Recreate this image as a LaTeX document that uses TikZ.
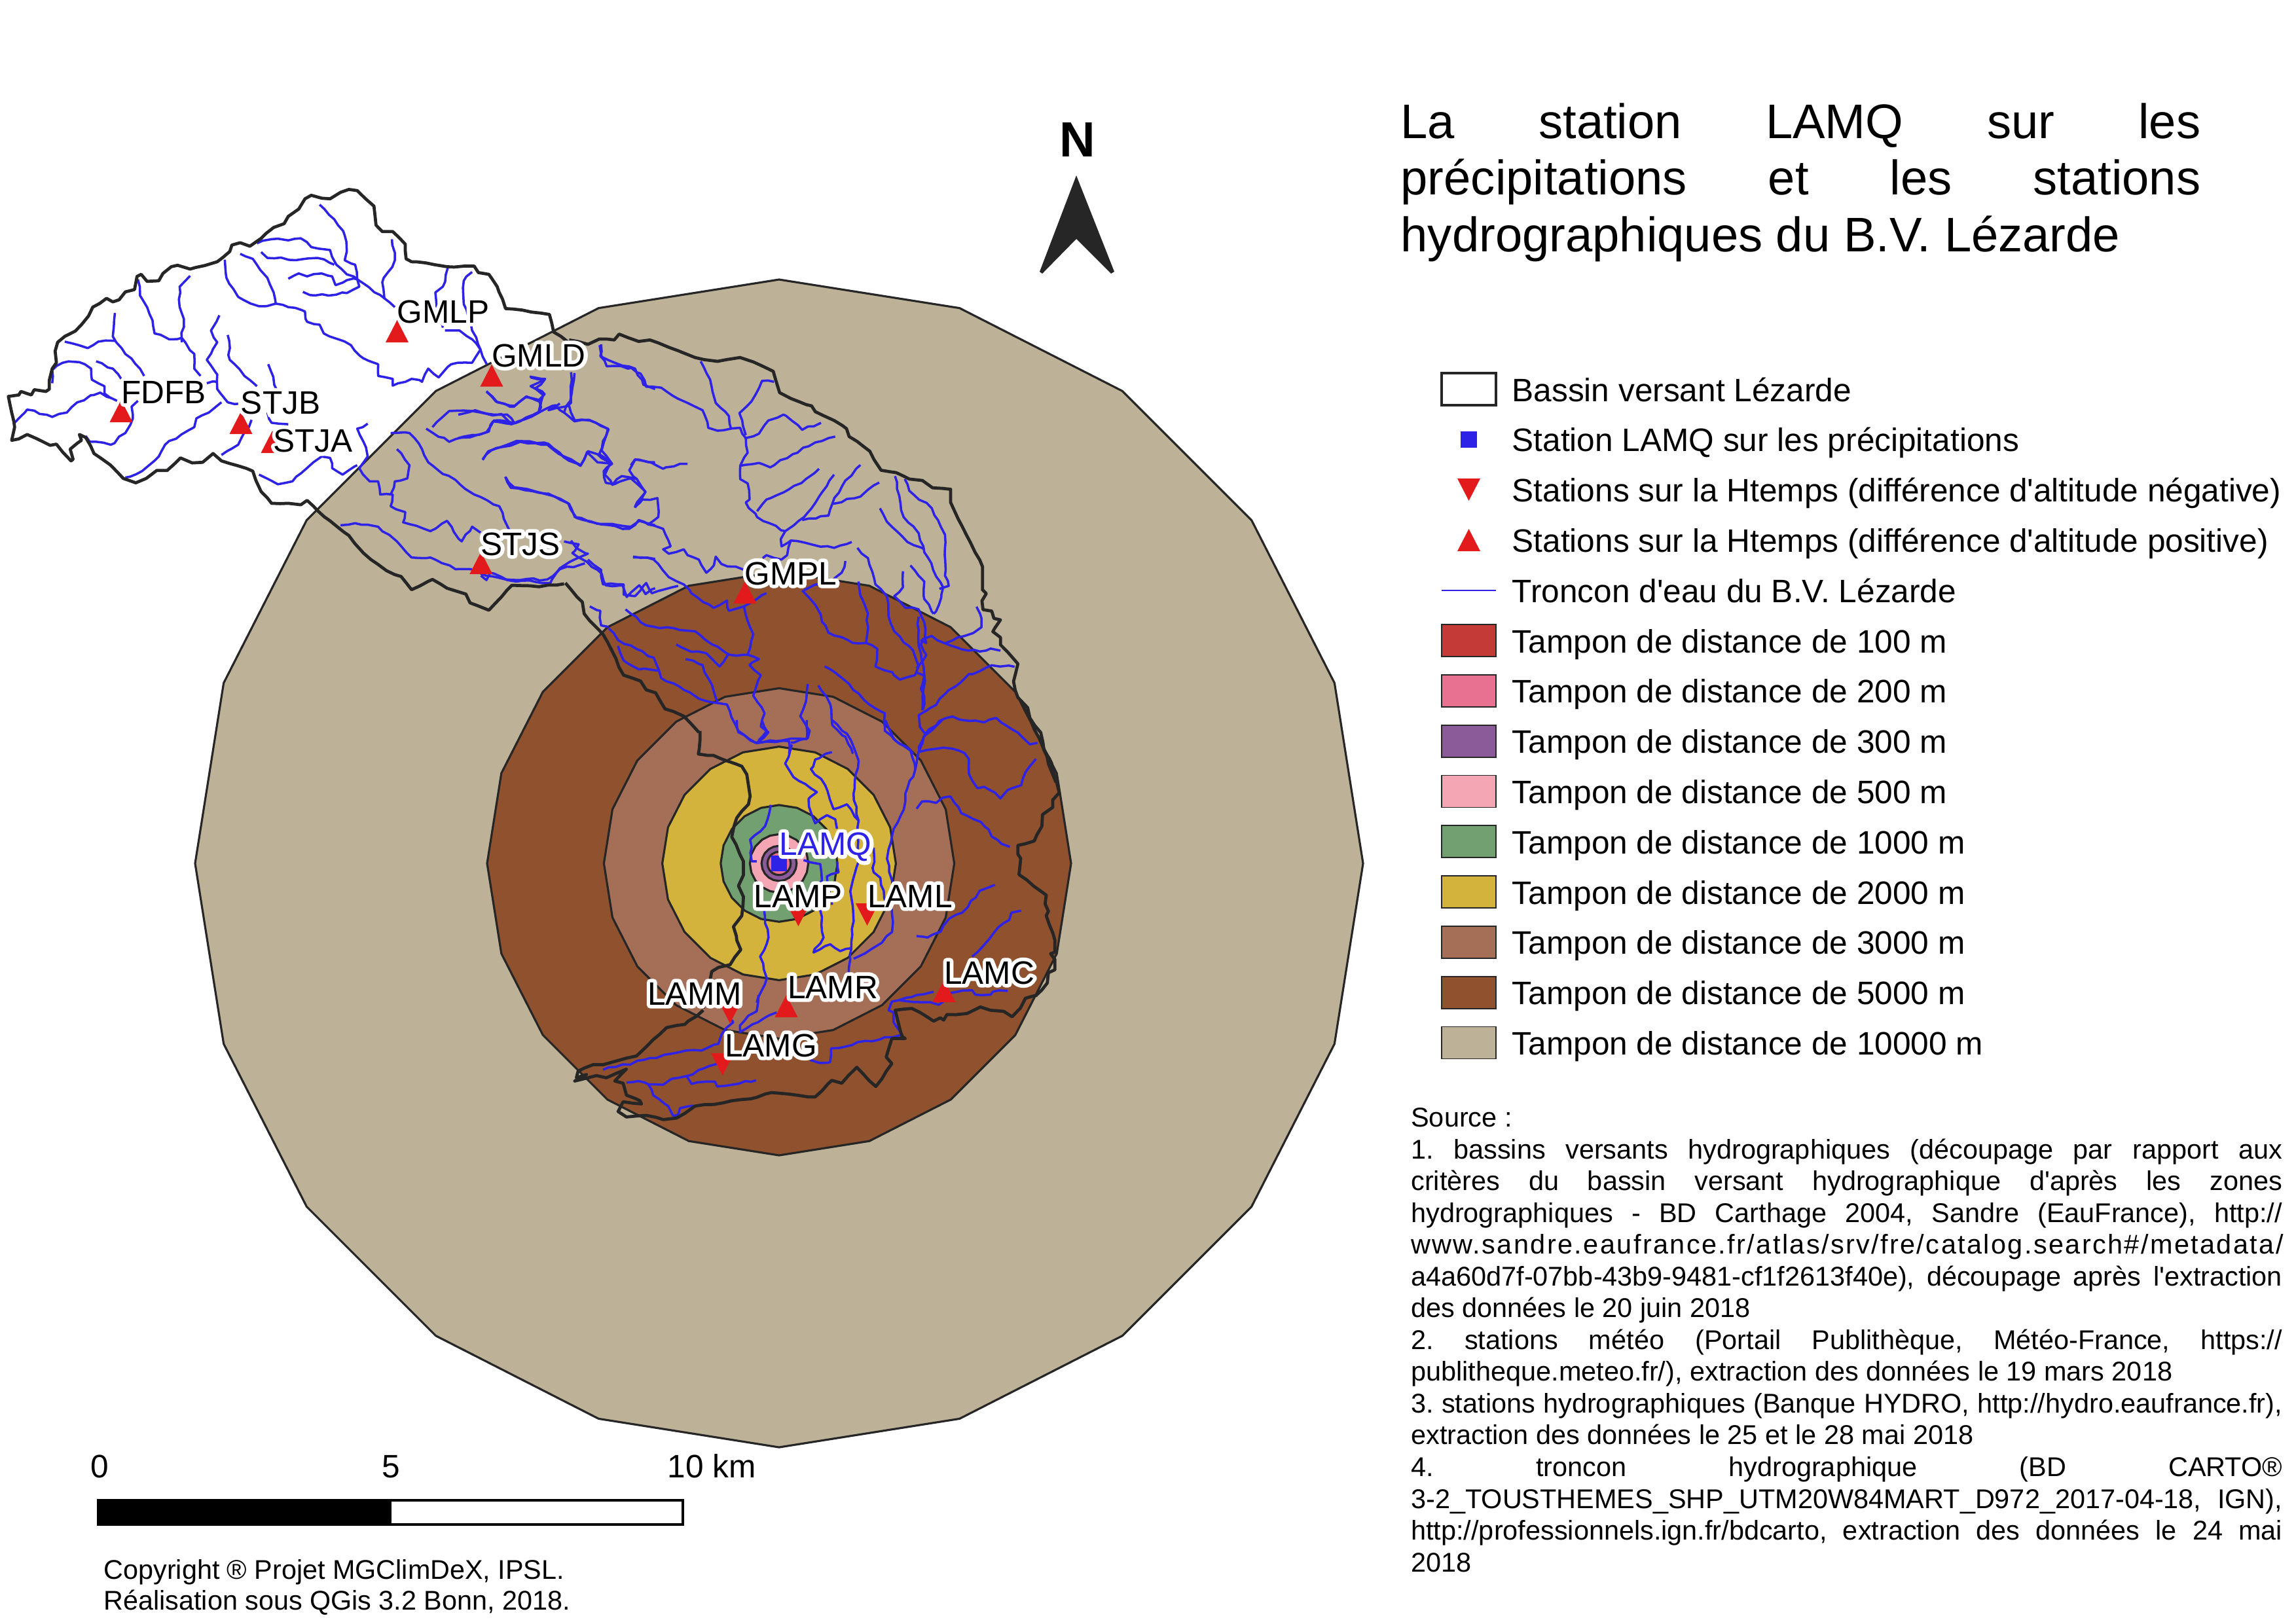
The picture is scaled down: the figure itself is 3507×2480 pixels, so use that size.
\documentclass[tikz,border=0pt]{standalone}
\usepackage{fontspec}
\usepackage{xcolor}
\usetikzlibrary{decorations.pathmorphing}

\newfontfamily\arial{Liberation Sans}

\definecolor{coulriv}{HTML}{2D22E6}
\definecolor{coulrouge}{HTML}{E31A1C}
\definecolor{coultrait}{HTML}{262626}
\definecolor{coulcent}{HTML}{C33A36}
\definecolor{couldeuxc}{HTML}{E87090}
\definecolor{coultroisc}{HTML}{8B5A98}
\definecolor{coulcinqc}{HTML}{F4A6B4}
\definecolor{coulmille}{HTML}{72A070}
\definecolor{couldeuxm}{HTML}{D3B33C}
\definecolor{coultroism}{HTML}{A56F57}
\definecolor{coulcinqm}{HTML}{8F512E}
\definecolor{couldixm}{HTML}{BDB297}

\tikzset{
  tampon/.style={draw=coultrait, line width=0.9pt, line join=round},
  bassin/.style={draw=coultrait, line width=1.35pt, line join=round, decorate,
    decoration={random steps, segment length=4pt, amplitude=0.3pt}},
  riviere/.style={draw=coulriv, line width=1pt, line join=round, decorate,
    decoration={random steps, segment length=3pt, amplitude=0.5pt}},
  % the digitised sheets of the map
  cartenord/.style={shift={(0,250)}, x=0.0063776cm, y=-0.0044643cm},
  carteest/.style={shift={(700,450)}, x=0.0057398cm, y=-0.0044643cm},
  cartesud/.style={shift={(850,1100)}, x=0.0051020cm, y=-0.0041454cm},
  cartecote/.style={shift={(1400,900)}, x=0.0033333cm, y=-0.0044643cm},
  cartebas/.style={shift={(860,1520)}, x=0.0051020cm, y=-0.0033333cm},
  etiq/.style={font=\arial\fontsize{14.1}{17}\selectfont, anchor=base, inner sep=0pt},
  legcase/.style={draw=coultrait, line width=0.5pt, minimum width=0.83cm, minimum height=0.49cm, inner sep=0pt},
  legtexte/.style={font=\arial\fontsize{14.1}{17}\selectfont, anchor=base west, inner sep=0pt},
  petit/.style={font=\arial\fontsize{11.75}{13.4}\selectfont, anchor=base west, inner sep=0pt},
}

\newcommand{\stahaut}[1]{\fill[coulrouge] (#1) ++(-17.5,17) -- ++(35,0) -- ++(-17.5,-34) -- cycle;}
\newcommand{\stabas}[1]{\fill[coulrouge] (#1) ++(-17.5,-17) -- ++(35,0) -- ++(-17.5,34) -- cycle;}
\newcommand{\etiquette}[4]{%
  \node[etiq, white] (#1-halo) at (#2) {\special{pdf:code 1 j 1 1 1 RG 3.2 w 2 Tr}#4\special{pdf:code 0 Tr}};
  \node[etiq, #3] (#1) at (#2) {#4};}

\begin{document}
\begin{tikzpicture}[x=0.01cm, y=-0.01cm]
  \pgfmathsetseed{7}
  \useasboundingbox (0,0) rectangle (3507,2480);

  % Distance buffers
  \begin{scope}[shift={(1190,1319)}]
    \foreach \r/\coul in {892/couldixm, 446/coulcinqm, 267.6/coultroism, 178.4/couldeuxm, 89.2/coulmille, 44.6/coulcinqc, 26.8/coultroisc, 17.8/couldeuxc, 8.9/coulcent}
      \filldraw[tampon, fill=\coul] (90:\r) \foreach \a in {18,36,...,342} {-- (90+\a:\r)} -- cycle;
  \end{scope}

  % Rivers, north sheet
  \begin{scope}[cartenord]
    \draw[riviere] plot coordinates {(765,140) (800,190) (825,245) (830,300) (825,330) (850,345) (855,395) (920,460) (945,490)};
    \draw[riviere] plot coordinates {(615,272) (650,258) (690,262) (720,255) (745,285) (790,295) (805,345) (830,378) (855,395)};
    \draw[riviere] plot coordinates {(625,302) (640,322) (720,327) (760,322) (800,345)};
    \draw[riviere] plot coordinates {(690,393) (715,375) (735,385) (770,375) (795,385) (803,415) (830,398) (855,395)};
    \draw[riviere] plot coordinates {(725,438) (755,450) (830,442) (860,420) (855,395)};
    \draw[riviere] plot coordinates {(938,258) (945,330) (915,405) (920,460)};
    \draw[riviere] plot coordinates {(575,308) (605,325) (640,390) (655,440) (660,478)};
    \draw[riviere] plot coordinates {(538,328) (542,390) (570,455) (620,487) (660,478) (690,490) (730,505) (735,540) (765,550) (775,580) (810,600) (840,620) (870,665) (905,685) (905,725) (940,735) (940,758) (985,735) (1010,745) (1025,700) (1050,730) (1080,685) (1130,680) (1150,635) (1130,600) (1100,570) (1065,570)};
    \draw[riviere] plot coordinates {(1072,355) (1060,420) (1042,440) (1045,490) (1060,560)};
    \draw[riviere] plot coordinates {(1130,370) (1110,400) (1110,480) (1130,570) (1150,635) (1165,685)};
    \draw[riviere] plot coordinates {(330,395) (335,450) (365,535) (370,580) (405,600) (435,595) (465,650) (465,700) (480,725)};
    \draw[riviere] plot coordinates {(455,383) (430,420) (430,490) (440,530) (435,610)};
    \draw[riviere] plot coordinates {(275,510) (270,590) (300,650) (335,700) (345,725)};
    \draw[riviere] plot coordinates {(155,608) (210,630) (235,608) (275,605)};
    \draw[riviere] plot coordinates {(230,675) (270,700) (290,735)};
    \draw[riviere] plot coordinates {(125,750) (125,705) (150,680) (190,678) (218,700) (220,738) (250,760) (250,785) (280,810)};
    \draw[riviere] plot coordinates {(35,885) (65,840) (125,865) (160,850) (185,815) (225,790) (240,782) (265,800)};
    \draw[riviere] plot coordinates {(330,810) (315,830) (318,870) (300,920) (265,960) (215,950) (205,930)};
    \draw[riviere] plot coordinates {(525,518) (505,570) (520,610) (495,670) (520,720) (520,770) (545,815) (570,820)};
    \draw[riviere] plot coordinates {(545,585) (550,670) (585,725) (615,760)};
    \draw[riviere] plot coordinates {(642,685) (665,780)};
    \draw[riviere] plot coordinates {(495,750) (520,745)};
    \draw[riviere] plot coordinates {(530,815) (500,850) (470,870) (465,900) (395,960) (380,1000) (340,1050) (300,1072)};
    \draw[riviere] plot coordinates {(602,875) (570,960) (530,995)};
    \draw[riviere] plot coordinates {(640,850) (650,885) (690,890)};
    \draw[riviere] plot coordinates {(620,1062) (665,1095) (700,1085) (720,1058) (750,1020) (770,1000) (790,1005) (795,1040) (820,1062) (855,1030)};
    \draw[riviere] plot coordinates {(880,888) (855,905) (870,950) (880,1000) (860,1040) (885,1085) (905,1085) (910,1130) (940,1130) (935,1170) (970,1190) (965,1225) (1030,1255) (1070,1220) (1105,1290) (1130,1240) (1150,1260)};
    \draw[riviere] plot coordinates {(935,920) (980,920) (1010,975) (1025,1020) (1060,1060) (1090,1080) (1135,1130) (1195,1170) (1215,1240) (1225,1280)};
    \draw[riviere] plot coordinates {(950,975) (980,1030) (975,1075) (945,1085) (935,1130)};
    \draw[riviere] plot coordinates {(815,1235) (850,1228) (905,1240) (950,1290) (985,1345) (1030,1345) (1090,1385) (1130,1385)};
    \draw[riviere] plot coordinates {(1165,780) (1190,815) (1230,830) (1260,795) (1295,815) (1290,845)};
    \draw[riviere] plot coordinates {(1035,900) (1075,845) (1130,845) (1180,860) (1200,855) (1225,890) (1240,880) (1290,850) (1330,825) (1350,850) (1375,880) (1410,875) (1455,905) (1440,980) (1465,1025) (1445,1050) (1450,1090) (1470,1095) (1510,1075) (1545,1120) (1520,1175)};
    \draw[riviere] plot coordinates {(1020,905) (1075,950) (1170,915) (1180,880) (1225,890)};
    \draw[riviere] plot coordinates {(1155,1010) (1175,980) (1245,950) (1310,960) (1350,1000) (1390,1030) (1405,985) (1430,1020) (1465,1025)};
    \draw[riviere] plot coordinates {(1210,1070) (1230,1105) (1310,1130) (1360,1160) (1380,1210) (1430,1230) (1510,1240) (1530,1220) (1568,1235)};
    \draw[riviere] plot coordinates {(1270,730) (1305,735) (1270,760) (1300,790) (1290,845)};
    \draw[riviere] plot coordinates {(1350,1290) (1385,1300) (1370,1330) (1405,1360) (1440,1400) (1450,1440) (1490,1440) (1500,1480) (1530,1440) (1545,1470) (1568,1450)};
    \draw[riviere] plot coordinates {(1150,1400) (1180,1410) (1210,1420) (1310,1420) (1340,1385) (1400,1365)};
    \draw[riviere] plot coordinates {(1515,1345) (1568,1350)};
    \draw[riviere] plot coordinates {(1510,1030) (1520,1010) (1568,1020)};
    \draw[riviere] plot coordinates {(1435,620) (1440,660) (1490,690) (1520,700) (1540,755) (1568,770)};
    \draw[riviere] plot coordinates {(1375,715) (1365,810) (1350,850)};
  \end{scope}

  % Rivers, east sheet
  \begin{scope}[carteest]
    \draw[riviere] plot coordinates {(380,170) (378,210) (395,245) (460,250) (485,270) (500,315) (540,318) (570,345) (610,370) (650,395) (665,455) (690,465) (750,455) (765,490)};
    \draw[riviere] plot coordinates {(645,228) (670,290) (685,370) (720,415) (725,455)};
    \draw[riviere] plot coordinates {(840,298) (808,295) (780,365) (748,405) (765,480)};
    \draw[riviere] plot coordinates {(965,438) (915,462) (865,410) (825,430) (800,475) (765,490) (770,540) (750,585) (750,630) (770,645) (775,700) (765,710) (795,760) (870,808)};
    \draw[riviere] plot coordinates {(1003,485) (950,505) (890,545) (830,590) (800,575) (750,585)};
    \draw[riviere] plot coordinates {(960,595) (925,630) (880,665) (820,700) (795,740)};
    \draw[riviere] plot coordinates {(1000,615) (960,690) (920,760) (870,808)};
    \draw[riviere] plot coordinates {(1070,582) (1030,635) (995,715) (985,755) (915,770)};
    \draw[riviere] plot coordinates {(1120,642) (1070,690) (995,715)};
    \draw[riviere] plot coordinates {(870,808) (858,835) (860,860) (885,840) (945,855) (1000,865) (1047,845)};
    \draw[riviere] plot coordinates {(885,840) (875,890) (860,905) (820,890) (810,900)};
    \draw[riviere] plot coordinates {(1162,620) (1185,760) (1225,815) (1240,880) (1290,1000) (1285,1035) (1265,1090)};
    \draw[riviere] plot coordinates {(1188,630) (1200,670) (1260,730) (1295,820) (1295,960) (1305,995) (1280,1005)};
    \draw[riviere] plot coordinates {(1122,730) (1140,775) (1195,845) (1240,870)};
    \draw[riviere] plot coordinates {(1203,925) (1240,980) (1240,1040) (1265,1090)};
    \draw[riviere] plot coordinates {(1183,945) (1183,1000) (1160,1030) (1190,1070) (1225,1075) (1240,1120) (1245,1190) (1230,1180)};
    \draw[riviere] plot coordinates {(1062,865) (1090,900) (1110,990) (1140,1030) (1145,1100) (1160,1150) (1210,1215) (1225,1270) (1215,1300) (1175,1315) (1155,1290) (1110,1270) (1115,1210) (1085,1190) (1050,1190) (1020,1170) (985,1155) (950,1060) (915,1010)};
    \draw[riviere] plot coordinates {(1065,980) (1075,1040) (1090,1090) (1085,1190)};
    \draw[riviere] plot coordinates {(1225,1100) (1225,1200) (1240,1300) (1235,1420)};
    \draw[riviere] plot coordinates {(1030,910) (1020,950) (985,990) (950,990) (920,1010)};
    \draw[riviere] plot coordinates {(465,895) (520,905) (560,965) (600,990) (620,1020) (680,1070) (715,1045) (720,1080) (760,1065) (820,1020)};
    \draw[riviere] plot coordinates {(270,372) (240,395) (295,380) (310,430) (350,430) (400,460) (385,500) (375,545) (405,575) (390,615) (410,650) (435,620) (475,630) (498,675) (470,725) (490,700) (530,695) (532,760) (505,785) (545,800) (565,860) (545,870) (560,885) (600,870) (610,890) (640,905) (660,950) (680,925) (685,895) (700,920) (760,940)};
    \draw[riviere] plot coordinates {(65,565) (80,535) (155,500) (240,510) (280,555) (325,585) (345,535) (370,545) (405,575)};
    \draw[riviere] plot coordinates {(125,622) (140,660) (240,680) (295,715) (310,760) (380,785) (455,800) (480,770) (505,785)};
    \draw[riviere] plot coordinates {(610,578) (590,578) (545,595) (500,570) (470,565) (455,600) (475,630)};
    \draw[riviere] plot coordinates {(300,265) (300,370) (290,380)};
    \draw[riviere] plot coordinates {(215,360) (220,385) (215,400) (180,420) (150,440) (130,410) (95,410) (45,395) (0,410)};
    \draw[riviere] plot coordinates {(75,330) (100,365) (150,380) (180,350) (215,360)};
    \draw[riviere] plot coordinates {(190,280) (230,290) (205,320) (230,340) (215,360)};
    \draw[riviere] plot coordinates {(0,490) (75,470) (95,430) (150,440)};
    \draw[riviere] plot coordinates {(300,840) (320,870) (345,885) (270,935) (245,985) (130,975) (85,950) (75,975) (60,960)};
    \draw[riviere] plot coordinates {(345,905) (380,940) (385,990) (440,990) (440,1025) (470,1030) (500,985) (515,1020) (585,995)};
    \draw[riviere] plot coordinates {(350,1065) (378,1080) (380,1130) (400,1135)};
    \draw[riviere] plot coordinates {(445,1075) (500,1130) (630,1150) (720,1230) (770,1230) (785,1160) (760,1065)};
    \draw[riviere] plot coordinates {(580,1195) (620,1220) (660,1225) (695,1270) (720,1225)};
    \draw[riviere] plot coordinates {(605,1245) (650,1265) (665,1310) (690,1390)};
    \draw[riviere] plot coordinates {(400,1140) (425,1180) (520,1240) (540,1310) (600,1350) (640,1380) (690,1395) (715,1400) (745,1490) (790,1530) (880,1525) (880,1568)};
    \draw[riviere] plot coordinates {(425,1200) (440,1250) (480,1280) (535,1285)};
    \draw[riviere] plot coordinates {(770,1230) (800,1245) (775,1265) (805,1300) (785,1370) (815,1430) (805,1475) (825,1495) (795,1530)};
    \draw[riviere] plot coordinates {(930,1330) (925,1390) (910,1440) (935,1490) (930,1515) (885,1530)};
    \draw[riviere] plot coordinates {(958,1335) (990,1400) (995,1470) (1030,1510) (1050,1568)};
    \draw[riviere] plot coordinates {(975,1270) (1040,1330) (1080,1385) (1135,1430) (1135,1490) (1170,1530) (1210,1568)};
  \end{scope}

  % Rivers, south sheet
  \begin{scope}[cartesud]
    \draw[riviere] plot coordinates {(540,0) (545,45) (600,85) (640,75) (750,70) (750,0)};
    \draw[riviere] plot coordinates {(615,0) (630,40) (605,75)};
    \draw[riviere] plot coordinates {(705,90) (685,160) (710,210) (745,235) (780,265) (755,290) (765,350) (775,380) (810,350) (835,365) (840,400)};
    \draw[riviere] plot coordinates {(825,118) (775,145) (762,180) (805,240) (830,328) (870,310) (905,370) (905,520) (880,630) (890,740) (880,880) (875,930)};
    \draw[riviere] plot coordinates {(825,0) (870,50) (905,150) (890,270) (905,370)};
    \draw[riviere] plot coordinates {(985,0) (1010,70) (1060,110) (1075,180) (1045,270) (1040,330) (1010,400) (990,510) (1005,590) (1005,780) (960,830) (890,878)};
    \draw[riviere] plot coordinates {(1155,0) (1100,60) (1085,115) (1075,180)};
    \draw[riviere] plot coordinates {(642,312) (625,390) (580,440) (585,520) (600,520)};
    \draw[riviere] plot coordinates {(740,515) (790,530) (795,590) (755,680) (790,700) (800,800) (770,855) (820,825) (850,850) (880,840)};
    \draw[riviere] plot coordinates {(950,470) (950,560) (970,580) (990,680)};
    \draw[riviere] plot coordinates {(840,520) (845,560) (810,575) (825,680)};
    \draw[riviere] plot coordinates {(622,700) (635,800) (610,870) (630,950) (600,1040)};
  \end{scope}

  % Rivers, east side
  \begin{scope}[cartecote]
    \draw[riviere] plot coordinates {(275,60) (298,100) (298,130) (260,150) (220,160) (130,185) (205,205) (290,213) (340,203) (385,210)};
    \draw[riviere] plot coordinates {(130,185) (70,160) (30,170) (20,190) (45,225) (0,270)};
    \draw[riviere] plot coordinates {(450,265) (345,260) (290,280) (240,290) (200,320) (135,355) (105,375) (90,395) (45,415) (10,430) (15,470) (40,495) (105,450) (165,435) (240,450) (310,455) (365,440) (410,465) (465,490) (520,530) (555,525)};
    \draw[riviere] plot coordinates {(0,285) (35,295) (20,340) (35,365) (30,410)};
    \draw[riviere] plot coordinates {(40,495) (10,540) (15,555) (90,545) (165,545) (220,560) (240,580) (240,630) (280,680) (310,675) (360,695) (385,715) (420,685) (480,670) (500,625) (548,580)};
    \draw[riviere] plot coordinates {(0,750) (25,725) (90,730) (120,712) (155,708) (205,765) (235,775) (295,795) (330,820) (345,845) (390,870) (428,880)};
    \draw[riviere] plot coordinates {(0,1185) (50,1190) (110,1170) (150,1125) (210,1105) (290,1030) (360,1010)};
    \draw[riviere] plot coordinates {(255,1255) (310,1215) (375,1155) (425,1130) (435,1105) (480,1098)};
    \draw[riviere] plot coordinates {(150,1380) (255,1370) (270,1385) (340,1385) (350,1375) (418,1372)};
  \end{scope}

  % Rivers, bottom sheet
  \begin{scope}[cartebas]
    \draw[riviere] plot coordinates {(120,343) (350,262) (415,255) (465,225) (475,180) (510,125) (505,115)};
    \draw[riviere] plot coordinates {(585,0) (580,75) (555,95) (530,140) (530,170) (640,80)};
    \draw[riviere] plot coordinates {(190,402) (225,395) (255,410) (300,412) (325,385) (370,372) (420,338) (465,315)};
    \draw[riviere] plot coordinates {(370,372) (385,408) (455,398) (462,420) (578,392)};
    \draw[riviere] plot coordinates {(255,410) (270,460) (315,510) (330,555) (345,550) (350,520) (390,508)};
    \draw[riviere] plot coordinates {(740,298) (768,312) (800,308) (803,245) (1017,183) (990,125) (990,80) (975,70) (985,30) (1060,0) (1110,-15)};
    \draw[riviere] plot coordinates {(1010,25) (1100,33) (1125,45) (1140,30)};
  \end{scope}

  % Basin outline, in pieces along the sheets
  \begin{scope}[cartenord]
    \draw[bassin] (1360,610) -- (1325,575) -- (1315,515) -- (1250,500) -- (1210,495) -- (1190,420) -- (1170,378) -- (1145,372) -- (1135,350) -- (1110,350) -- (1070,352) -- (1040,345) -- (985,335) -- (972,325) -- (970,275) -- (940,232) -- (915,232) -- (900,210) -- (895,145) -- (875,120) -- (855,92) -- (835,88) -- (815,98) -- (790,120) -- (770,118) -- (745,108) -- (730,120) -- (715,155) -- (690,180) -- (680,205) -- (655,218) -- (625,255) -- (598,282) -- (575,270) -- (555,278) -- (550,300) -- (520,335) -- (490,348) -- (455,360) -- (425,347) -- (410,352) -- (390,375) -- (380,400) -- (352,402) -- (338,378) -- (328,385) -- (322,430) -- (300,438) -- (285,465) -- (270,472) -- (255,460) -- (222,490) -- (212,520) -- (195,550) -- (180,572) -- (155,590) -- (138,610) -- (132,640) -- (135,680) -- (125,700) -- (118,740) -- (118,770) -- (110,778) -- (82,772) -- (75,790) -- (50,778) -- (45,790) -- (20,795) -- (28,850) -- (35,900) -- (28,945) -- (45,940) -- (65,925) -- (120,962) -- (135,958) -- (150,985) -- (170,1015) -- (175,1010) -- (168,975) -- (195,945) -- (190,925) -- (205,935) -- (225,990) -- (265,1030) -- (295,1075) -- (325,1090) -- (350,1075) -- (375,1048) -- (400,1048) -- (432,1005) -- (460,1022) -- (485,1020) -- (510,990) -- (530,1015) -- (570,1032) -- (605,1050) -- (625,1120) -- (650,1160) -- (690,1160) -- (720,1165) -- (735,1150) -- (760,1185) -- (790,1220) -- (835,1270) -- (870,1330) -- (925,1390) -- (960,1410) -- (985,1455) -- (1035,1420) -- (1070,1450) -- (1115,1470) -- (1125,1500) -- (1170,1525) -- (1200,1480) -- (1225,1440) -- (1290,1445) -- (1350,1435);
  \end{scope}
  \begin{scope}[carteest]
    \draw[bassin] (295,155) -- (345,170) -- (375,152) -- (415,155) -- (428,135) -- (480,160) -- (510,155) -- (560,180) -- (630,215) -- (690,228) -- (750,215) -- (785,230) -- (838,262) -- (855,335) -- (885,355) -- (905,365) -- (940,380) -- (950,400) -- (1000,430) -- (1033,458) -- (1040,485) -- (1095,535) -- (1125,600) -- (1165,608) -- (1200,630) -- (1235,635) -- (1262,660) -- (1310,665) -- (1310,710) -- (1340,790) -- (1375,880) -- (1395,930) -- (1395,1008);
    \draw[bassin] (285,985) -- (330,1050) -- (335,1090) -- (385,1160) -- (440,1300) -- (485,1320) -- (500,1350) -- (525,1360) -- (550,1415) -- (600,1440) -- (640,1495);
  \end{scope}
  \begin{scope}[cartesud]
    \draw[bassin] (430,40) -- (425,125) -- (470,130) -- (510,150) -- (555,170) -- (570,200) -- (580,280) -- (575,310) -- (540,360) -- (525,430) -- (560,520) -- (560,570) -- (545,610) -- (560,650) -- (555,720) -- (530,760) -- (540,810) -- (552,845) -- (520,900) -- (485,910) -- (465,925) -- (440,1060);
  \end{scope}
  \begin{scope}[cartecote]
    \draw[bassin] (300,0) -- (320,15) -- (300,40) -- (305,70) -- (345,75) -- (355,100) -- (385,105) -- (350,145) -- (385,165) -- (385,190) -- (430,225) -- (465,255) -- (445,315) -- (465,370) -- (510,405) -- (520,440) -- (570,490) -- (585,550) -- (620,595) -- (655,695) -- (625,720) -- (625,745) -- (578,770) -- (575,810) -- (540,860) -- (465,875) -- (465,905) -- (478,920) -- (470,975) -- (595,1045) -- (590,1075) -- (605,1100) -- (595,1115) -- (635,1200) -- (635,1240) -- (615,1245) -- (635,1265) -- (635,1300) -- (605,1310) -- (600,1345) -- (545,1390);
    \draw[bassin] (480,385) -- (525,450) -- (580,540) -- (640,660);
  \end{scope}
  \begin{scope}[cartebas]
    \draw[bassin] (420,70) -- (365,135) -- (310,150) -- (220,280) -- (190,290) -- (120,320) -- (90,320) -- (45,350) -- (40,380) -- (70,365) -- (35,395) -- (75,380) -- (100,370) -- (130,380) -- (190,340) -- (155,395) -- (180,405) -- (190,460) -- (230,485) -- (235,500) -- (180,490) -- (165,535) -- (190,560) -- (250,553) -- (300,572) -- (340,565) -- (395,510) -- (480,495) -- (580,470) -- (625,448) -- (755,468) -- (805,392) -- (835,405) -- (880,332) -- (937,420) -- (985,315) -- (968,285) -- (985,200) -- (1025,200) -- (1015,190) -- (995,70) -- (1045,62) -- (1085,95) -- (1110,120) -- (1130,105) -- (1140,115) -- (1150,90) -- (1210,85) -- (1250,55) -- (1280,70) -- (1320,75) -- (1345,100) -- (1370,60) -- (1385,15) -- (1420,0);
  \end{scope}

  % Stations
  \stahaut{606.5,506}
  \stahaut{185,628}
  \stahaut{368,646}
  \stahaut{416,675}
  \stahaut{751,573.6}
  \stahaut{734.7,860}
  \stahaut{1138,905}
  \stahaut{1201,1537}
  \stahaut{1442,1514}
  \stabas{1219.4,1398}
  \stabas{1324.5,1397}
  \stabas{1115,1546.5}
  \stabas{1103.6,1626}
  \fill[coulriv] (1178,1307) rectangle (1202,1331);

  \etiquette{gmlp}{677,493}{black}{GMLP}
  \etiquette{fdfb}{250,616}{black}{FDFB}
  \etiquette{stjb}{428.6,632.6}{black}{STJB}
  \etiquette{stja}{478,690.6}{black}{STJA}
  \etiquette{gmld}{823,560}{black}{GMLD}
  \etiquette{stjs}{795,848}{black}{STJS}
  \etiquette{gmpl}{1208,893}{black}{GMPL}
  \etiquette{lamq}{1261,1306.5}{coulriv}{LAMQ}
  \etiquette{lamp}{1219,1386}{black}{LAMP}
  \etiquette{laml}{1390,1386}{black}{LAML}
  \etiquette{lamm}{1061,1535}{black}{LAMM}
  \etiquette{lamr}{1272,1525}{black}{LAMR}
  \etiquette{lamc}{1511,1503}{black}{LAMC}
  \etiquette{lamg}{1177.5,1614}{black}{LAMG}

  % North arrow
  \node[font=\arial\bfseries\fontsize{21.5}{26}\selectfont, inner sep=0pt, anchor=base] (nord) at (1645.5,239) {N};
  \fill[coultrait] (1644,268) -- (1702,415) -- (1697,418) -- (1644,365) -- (1592,418) -- (1588,415) -- cycle;

  % Title
  \node[font=\arial\fontsize{21.1}{24.6}\selectfont, text width=12.21cm, align=justify, inner sep=0pt, anchor=north west] (titre) at (2139,157)
    {\tolerance=10000 \hyphenpenalty=10000 \parindent=0pt La station LAMQ sur les\linebreak
     précipitations et les stations\linebreak hydrographiques du B.V. Lézarde};

  % Legend
  \node[legcase, line width=0.9pt] (case0) at (2243.5,594.5) {};
  \node[legtexte] (leg0) at (2309,613) {Bassin versant Lézarde};
  \fill[coulriv] (2231,658.5) rectangle (2256,683.5);
  \node[legtexte] (leg1) at (2309,689.8) {Station LAMQ sur les précipitations};
  \stabas{2243.5,748}
  \node[legtexte] (leg2) at (2309,766.6) {Stations sur la Htemps (différence d'altitude négative)};
  \stahaut{2243.5,825}
  \node[legtexte] (leg3) at (2309,843.4) {Stations sur la Htemps (différence d'altitude positive)};
  \draw[coulriv, line width=0.6pt] (2202,902) -- (2285,902);
  \node[legtexte] (leg4) at (2309,920.2) {Troncon d'eau du B.V. Lézarde};
  \foreach \dist/\coul [count=\i from 5] in {100/coulcent, 200/couldeuxc, 300/coultroisc, 500/coulcinqc, 1000/coulmille, 2000/couldeuxm, 3000/coultroism, 5000/coulcinqm, 10000/couldixm} {
    \node[legcase, fill=\coul] (case\i) at (2243.5,{594.5+76.8*\i}) {};
    \node[legtexte] (leg\i) at (2309,{613+76.8*\i}) {Tampon de distance de \dist\ m};
  }

  % Sources
  \node[font=\arial\fontsize{11.78}{13.8}\selectfont, text width=13.3cm, align=justify, inner sep=0pt, anchor=north west] (source) at (2154.6,1692)
    {\frenchspacing \tolerance=10000 \hbadness=10000 \hfuzz=20pt \hyphenpenalty=10000 \parindent=0pt \parskip=0pt
     Source :\par
     1. bassins versants hydrographiques (découpage par rapport aux\linebreak
     critères du bassin versant hydrographique d'après les zones\linebreak
     hydrographiques - BD Carthage 2004, Sandre (EauFrance), http://\linebreak
     {\addfontfeature{LetterSpace=5.8}www.sandre.eaufrance.fr/atlas/srv/fre/catalog.search\#/metadata/}\linebreak
     a4a60d7f-07bb-43b9-9481-cf1f2613f40e), découpage après l'extraction\linebreak
     des données le 20 juin 2018\par
     2. stations météo (Portail Publithèque, Météo-France, https://\linebreak
     publitheque.meteo.fr/), extraction des données le 19 mars 2018\par
     3. stations hydrographiques (Banque HYDRO, http://hydro.eaufrance.fr),\linebreak
     extraction des données le 25 et le 28 mai 2018\par
     4. troncon hydrographique (BD CARTO®\linebreak
     3-2\_TOUSTHEMES\_SHP\_UTM20W84MART\_D972\_2017-04-18, IGN),\linebreak
     http://professionnels.ign.fr/bdcarto, extraction des données le 24 mai\linebreak
     2018};

  % Scale bar
  \node[legtexte, anchor=base] (zero) at (152,2257) {0};
  \node[legtexte, anchor=base] (cinq) at (597,2257) {5};
  \node[legtexte] (dix) at (1019,2257) {10 km};
  \draw[black, line width=0.9pt] (150,2292) rectangle (1043,2329);
  \fill[black] (150,2291) rectangle (598,2330);

  % Copyright
  \node[petit] (copyr) at (158,2412) {Copyright ® Projet MGClimDeX, IPSL.};
  \node[petit] (qgis) at (158,2459) {Réalisation sous QGis 3.2 Bonn, 2018.};
\end{tikzpicture}
\end{document}
